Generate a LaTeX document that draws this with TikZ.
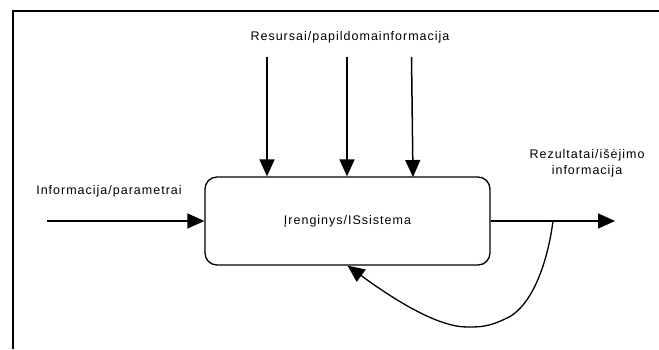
\documentclass[tikz,border=0pt]{standalone}
\usepackage{fontspec}
\setmainfont{Liberation Sans}[LetterSpace=8]
\usetikzlibrary{arrows.meta}
\begin{document}
\begin{tikzpicture}[x=1pt,y=1pt,
  lbl/.style={font=\fontsize{12.5}{15.5}\selectfont, inner sep=0pt, align=center},
  flow/.style={line width=1.5pt, -{Triangle[length=17pt,width=15pt]}},
  loopline/.style={line width=1.3pt, -{Triangle[length=17pt,width=15pt]}},
  frameline/.style={line width=2pt},
  sysbox/.style={draw, line width=1.3pt, rounded corners=12pt,
    minimum width=285pt, minimum height=88pt, inner sep=0pt}]
\useasboundingbox (0,0) rectangle (659,349);

% open frame: top and left edges only
\coordinate (fTR) at (659,338);
\coordinate (fTL) at (13,338);
\coordinate (fBL) at (13,0);
\draw[frameline] (fTR) -- (fTL) -- (fBL);

% central system block
\node[sysbox, lbl] (box) at (347.5,128) {Įrenginys/ISsistema};

% resources from above
\node[lbl] (res) at (350,312) {Resursai/papildomainformacija};
\coordinate (r1) at (267,292);
\coordinate (r2) at (347,292);
\coordinate (r3) at (411.5,292);
\draw[flow] (r1) -- (r1 |- box.north);
\draw[flow] (r2) -- (r2 |- box.north);
\draw[flow] (r3) -- (413,172);

% input on the left
\node[lbl] (inlbl) at (109,158) {Informacija/parametrai};
\coordinate (in) at (47,128);
\draw[flow] (in) -- (box.west);

% output on the right
\node[lbl] (outlbl) at (587,186) {Rezultatai/išėjimo\\informacija};
\coordinate (out) at (615,128);
\draw[flow] (box.east) -- (out);

% feedback loop from the output back into the block
\coordinate (fb) at (553,128);
\coordinate (fbbend) at (505,30);
\coordinate (fblow) at (467,22);
\draw[loopline] (fb) .. controls (547,82) and (530,40) .. (fbbend)
  .. controls (488,22) and (480,22) .. (fblow)
  .. controls (440,22) and (400,45) .. (box.south);
\end{tikzpicture}
\end{document}
